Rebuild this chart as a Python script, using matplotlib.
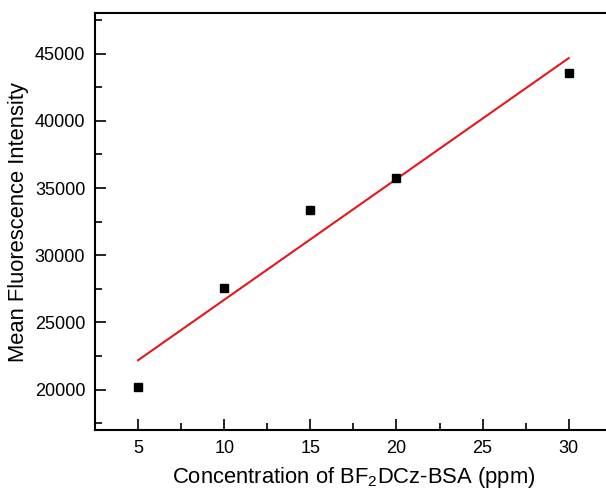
import numpy as np
import matplotlib
matplotlib.use('Agg')
import matplotlib.pyplot as plt
from matplotlib.ticker import MultipleLocator

plt.rcParams['font.family'] = ['Liberation Sans', 'DejaVu Sans']
plt.rcParams['mathtext.fontset'] = 'custom'
plt.rcParams['mathtext.rm'] = 'Liberation Sans'

conc = np.array([5, 10, 15, 20, 30])
intensity = np.array([20170, 27560, 33340, 35740, 43590])

# linear fit
slope, intercept = np.polyfit(conc, intensity, 1)
fit_x = np.array([conc.min(), conc.max()])
fit_y = slope * fit_x + intercept

fig = plt.figure(figsize=(6.06, 4.9), dpi=100)
ax = fig.add_axes([95/606, 60/490, 516.8/606, 416.7/490])

ax.plot(fit_x, fit_y, color='#e8161b', lw=1.5, zorder=2)
ax.plot(conc, intensity, 's', color='black', ms=6, zorder=3)

ax.set_xlim(2.5, 32.5)
ax.set_ylim(17000, 48000)
ax.xaxis.set_major_locator(MultipleLocator(5))
ax.xaxis.set_minor_locator(MultipleLocator(2.5))
ax.yaxis.set_major_locator(MultipleLocator(5000))
ax.yaxis.set_minor_locator(MultipleLocator(2500))
ax.tick_params(which='both', direction='in', width=1.2, labelsize=13, pad=7)
ax.tick_params(which='major', length=8)
ax.tick_params(which='minor', length=5)
for s in ax.spines.values():
    s.set_linewidth(1.5)

ax.set_xlabel('Concentration of BF$_\\mathregular{2}$DCz-BSA (ppm)', fontsize=15.8, labelpad=6)
ax.set_ylabel('Mean Fluorescence Intensity', fontsize=15.8, labelpad=4)

fig.savefig('out.png', dpi=100)
